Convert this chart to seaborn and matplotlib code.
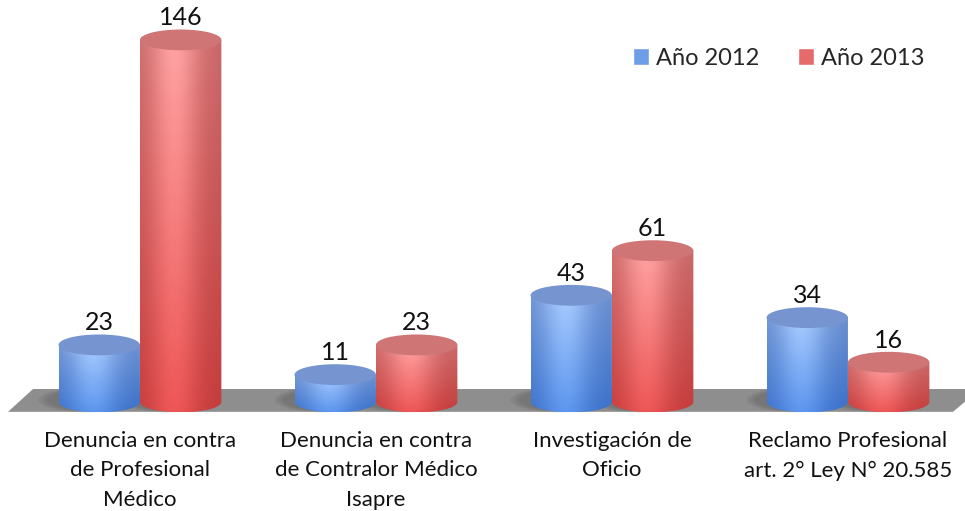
import numpy as np
import pandas as pd
import seaborn as sns
import matplotlib.pyplot as plt
from matplotlib.patches import Ellipse, Polygon, Patch, PathPatch
from matplotlib.path import Path
from matplotlib.colors import to_rgb

categorias = [
    "Denuncia en contra\nde Profesional\nMédico",
    "Denuncia en contra\nde Contralor Médico\nIsapre",
    "Investigación de\nOficio",
    "Reclamo Profesional\nart. 2° Ley N° 20.585",
]
anios = ["Año 2012", "Año 2013"]
valores_2012 = [23, 11, 43, 34]
valores_2013 = [146, 23, 61, 16]

df = pd.DataFrame({
    "categoria": categorias * 2,
    "anio": [anios[0]] * len(categorias) + [anios[1]] * len(categorias),
    "valor": valores_2012 + valores_2013,
})

# colours: (top edge, top centre, bottom edge, bottom centre, cap)
estilos = {
    anios[0]: ("#6b8fd0", "#a9ccff", "#3b70c9", "#5d96ee", "#7594d0"),
    anios[1]: ("#c96868", "#ffa3a3", "#c43c3c", "#ee5656", "#cf7575"),
}

sns.set_theme(style="white")
plt.rcParams["font.family"] = ["Lato", "DejaVu Sans"]

fig = plt.figure(figsize=(9.65, 5.11), dpi=100)
ax = fig.add_axes([0, 0.19, 1, 0.81])
sns.barplot(data=df, x="categoria", y="valor", hue="anio", hue_order=anios,
            palette=["#6f9ee8", "#e66a6a"], width=0.69, saturation=1,
            ax=ax, legend=False)

ey = 4.2  # half height of the cylinder ellipses, data units

# floor plate
piso = Polygon([(-0.453, 5.2), (3.56, 5.2), (3.445, -4.0), (-0.559, -4.0)],
               closed=True, facecolor="#8e8e8e", edgecolor="none", zorder=1)
ax.add_patch(piso)

def cilindro(x0, w, h, estilo):
    e_top, c_top, e_bot, c_bot, cap = [np.array(to_rgb(c)) for c in estilo]
    nx, ny = 80, 120
    u = np.linspace(0, 1, nx)
    perfil = np.exp(-((u - 0.42) / 0.3) ** 2)
    arriba = e_top + (c_top - e_top) * perfil[:, None]
    abajo = e_bot + (c_bot - e_bot) * perfil[:, None]
    v = np.linspace(0, 1, ny)[:, None, None]
    img = abajo[None] * (1 - v) + arriba[None] * v

    cx = x0 + w / 2
    th = np.linspace(np.pi, 2 * np.pi, 60)
    verts = [(x0, h)] + list(zip(cx + w / 2 * np.cos(th), ey * np.sin(th))) + [(x0 + w, h), (x0, h)]
    codes = [Path.MOVETO] + [Path.LINETO] * (len(verts) - 2) + [Path.CLOSEPOLY]
    clip = PathPatch(Path(verts, codes), transform=ax.transData, facecolor="none", edgecolor="none")
    ax.add_patch(clip)

    # soft shadow on the floor
    for k, a in [(1.2, 0.12), (1.1, 0.14), (1.0, 0.16)]:
        ax.add_patch(Ellipse((x0 + w * 0.35, 0.8), w * k, 2 * ey * k,
                             facecolor="#505050", edgecolor="none", alpha=a, zorder=1.5))
    im = ax.imshow(img, extent=[x0, x0 + w, -ey, h], origin="lower",
                   aspect="auto", zorder=2, interpolation="bilinear")
    im.set_clip_path(clip)
    ax.add_patch(Ellipse((cx, h), w, 2 * ey, facecolor=cap, edgecolor="none", zorder=3))

for anio, cont in zip(anios, ax.containers):
    for barra in cont:
        x0, w, h = barra.get_x(), barra.get_width(), barra.get_height()
        barra.set_visible(False)
        cilindro(x0, w, h, estilos[anio])
        ax.text(x0 + w / 2, h + ey + 0.1, f"{int(round(h))}", ha="center", va="bottom",
                fontsize=18, color="#111111", zorder=4)

ax.set_xlim(-0.593, 3.496)
ax.set_ylim(-4.84, 162.1)
ax.set_xlabel("")
ax.set_ylabel("")
ax.set_yticks([])
ax.tick_params(axis="x", length=0, pad=12, labelsize=16, labelcolor="#111111")
for t in ax.get_xticklabels():
    t.set_linespacing(1.62)
sns.despine(ax=ax, left=True, bottom=True)

handles = [Patch(facecolor="#6f9ee8"), Patch(facecolor="#e66a6a")]
fig.legend(handles, anios, loc="center", bbox_to_anchor=(0.807, 0.886), ncol=2,
           frameon=False, fontsize=17, handlelength=0.7, handleheight=0.7,
           handletextpad=0.3, columnspacing=1.6)

fig.savefig("out.png", dpi=100)
